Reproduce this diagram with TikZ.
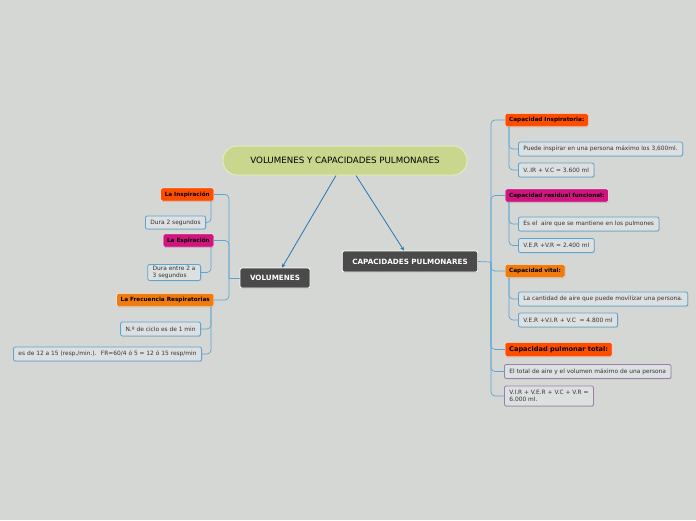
\documentclass[tikz,border=0pt]{standalone}
\usepackage{fontspec}
\setmainfont{DejaVu Sans}
\usetikzlibrary{arrows.meta,shadows}

\definecolor{fondo}{HTML}{D5D7D4}
\definecolor{verdetit}{HTML}{C8D68E}
\definecolor{bordetit}{HTML}{E3EBBE}
\definecolor{oscuro}{HTML}{4A4A4A}
\definecolor{rojo}{HTML}{FF4D00}
\definecolor{magenta}{HTML}{D0157F}
\definecolor{naranja}{HTML}{F07C10}
\definecolor{hoja}{HTML}{DDE0E1}
\definecolor{azul}{HTML}{5AA5D2}
\definecolor{flecha}{HTML}{2277B8}
\definecolor{morado}{HTML}{9A80A8}
\definecolor{texto}{HTML}{333333}

\begin{document}
\begin{tikzpicture}[x=1pt,y=-1pt,
    sombra/.style={drop shadow={shadow xshift=0.6pt,shadow yshift=-0.8pt,opacity=0.25}},
    titulo/.style={draw=bordetit,line width=1pt,fill=verdetit,rounded corners=14pt,
      minimum width=244pt,minimum height=29pt,font=\fontsize{8.7}{9}\selectfont,text=black},
    rama/.style={draw=white,line width=0.8pt,fill=oscuro,rounded corners=2pt,sombra,
      minimum height=20pt,inner xsep=10pt,text=white,font=\fontsize{7.2}{8}\selectfont\bfseries},
    etiq/.style={draw=white,line width=0.4pt,fill=#1,rounded corners=1.5pt,sombra,
      minimum height=13pt,inner xsep=4pt,inner ysep=1pt,text=black,
      font=\fontsize{5.7}{6}\selectfont\bfseries},
    hojita/.style={draw=azul,line width=0.8pt,fill=hoja,rounded corners=2pt,sombra,
      minimum height=14pt,inner xsep=5pt,inner ysep=1.5pt,text=texto,align=left,
      font=\fontsize{5.9}{7.3}\selectfont},
    hojamor/.style={hojita,draw=morado},
    linea/.style={draw=azul,line width=0.7pt,rounded corners=4pt},
    flechaazul/.style={draw=flecha,line width=0.8pt,-{Stealth[length=4pt,width=3.5pt]}}]

  \useasboundingbox[fill=fondo] (0,0) rectangle (696,520);

  % Nodo central y ramas
  \node[titulo] (titulo) at (345,160.5) {VOLUMENES Y CAPACIDADES PULMONARES};
  \node[rama] (vol) at (275,278) {VOLUMENES};
  \node[rama,minimum height=21pt] (cap) at (410,261.5) {CAPACIDADES PULMONARES};

  \draw[flechaazul] ([xshift=-9pt]titulo.south) -- ([xshift=7pt]vol.north);
  \draw[flechaazul] ([xshift=11pt]titulo.south) -- ([xshift=-6pt]cap.north);

  % Volumenes
  \node[etiq=rojo,anchor=east] (insp) at (214,194.5) {La Inspiración};
  \node[hojita,minimum height=13pt,anchor=east] (dura2) at (206,222.5) {Dura 2 segundos};
  \node[etiq=magenta,anchor=east] (espir) at (214,240.5) {La Espiración};
  \node[hojita,anchor=east] (dura3) at (201,272.5) {Dura entre 2 a\\3 segundos};
  \node[etiq=naranja,anchor=east] (frec) at (214,300) {La Frecuencia Respiratorias};
  \node[hojita,anchor=east] (ciclo) at (201,329) {N.º de ciclo es de 1 min};
  \node[hojita,anchor=east] (frecval) at (202,354) {es de 12 a 15 (resp./min.).~ FR=60/4 ó 5 = 12 ó 15 resp/min};

  \coordinate (lb) at (229,278);
  \draw[linea] (vol.west) -- (lb);
  \foreach \n in {insp,espir,frec}
    \draw[linea] (lb) |- (\n.east);
  \draw[linea] ([xshift=-3pt]insp.south east) |- (dura2.east);
  \draw[linea] ([xshift=-3pt]espir.south east) |- (dura3.east);
  \foreach \n in {ciclo,frecval}
    \draw[linea] ([xshift=-3pt]frec.south east) |- (\n.east);

  % Capacidades
  \node[etiq=rojo,anchor=west] (cinsp) at (505,120) {Capacidad Inspiratoria:};
  \node[hojita,anchor=west] (puede) at (518,149) {Puede inspirar en una persona máximo los 3,600ml.};
  \node[hojita,anchor=west] (vic) at (518,170) {V..IR + V.C = 3.600 ml};
  \node[etiq=magenta,anchor=west] (cres) at (505,195.5) {Capacidad residual funcional:};
  \node[hojita,anchor=west] (aire) at (518,224) {Es el~ aire que se mantiene en los pulmones};
  \node[hojita,anchor=west] (ver) at (518,245.5) {V.E.R +V.R = 2.400 ml};
  \node[etiq=naranja,anchor=west] (cvit) at (505,271) {Capacidad vital:};
  \node[hojita,anchor=west] (movil) at (518,299) {La cantidad de aire que puede movilizar una persona.};
  \node[hojita,anchor=west] (vital) at (518,320) {V.E.R +V.I.R + V.C~ = 4.800 ml};
  \node[etiq=rojo,anchor=west,minimum height=14pt,font=\fontsize{6.6}{7}\selectfont\bfseries] (ctot) at (505,349.5) {Capacidad pulmonar total:};
  \node[hojamor,anchor=west] (maximo) at (504,371.5) {El total de aire y el volumen máximo de una persona};
  \node[hojamor,anchor=west,minimum height=20pt] (suma) at (504,396) {V.I.R + V.E.R + V.C + V.R =\\6.000 ml.};

  \coordinate (rb) at (491,262);
  \draw[linea] (cap.east) -- (rb);
  \foreach \n in {cinsp,cres,cvit,ctot,maximo,suma}
    \draw[linea] (rb) |- (\n.west);
  \foreach \n in {puede,vic}
    \draw[linea] ([xshift=4pt]cinsp.south west) |- (\n.west);
  \foreach \n in {aire,ver}
    \draw[linea] ([xshift=4pt]cres.south west) |- (\n.west);
  \foreach \n in {movil,vital}
    \draw[linea] ([xshift=4pt]cvit.south west) |- (\n.west);
\end{tikzpicture}
\end{document}
